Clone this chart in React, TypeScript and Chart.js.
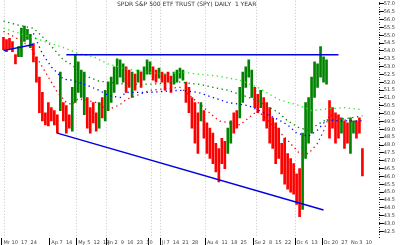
import React, { useEffect, useRef } from 'react';
import { Chart, registerables } from 'chart.js';

Chart.register(...registerables);

const TITLE = 'SPDR S&P 500 ETF TRUST (SPY) DAILY  1 YEAR';

// number of daily slots on the x axis (last few are empty)
const NUM_SLOTS = 126;
const dayLabels = Array.from({ length: NUM_SLOTS }, (_, i) => 'd' + i);

// daily bars: high / low, direction r = down, g = up
const barHigh = [
  54.86, 54.73, 54.80, 54.60, 53.76,
  54.28, 55.45, 55.58, 55.38, 55.06,
  54.47, 53.63, 52.33, 51.36, 50.06,
  50.71, 50.38, 50.19, 49.93, 52.65,
  50.71, 50.51, 49.93, 51.68, 53.76,
  53.30, 52.78, 52.65, 51.03, 50.38,
  50.71, 50.06, 50.71, 51.03, 51.49,
  52.01, 52.33, 52.98, 53.50, 53.43,
  53.17, 52.98, 52.78, 52.65, 52.52,
  52.78, 52.65, 52.98, 53.43, 53.30,
  52.98, 52.78, 52.91, 52.65, 52.52,
  52.65, 52.39, 52.65, 52.78, 52.91,
  52.78, 52.01, 51.68, 51.03, 50.71,
  50.06, 50.71, 50.19, 49.41, 49.08,
  48.76, 48.11, 47.78, 48.43, 48.24,
  49.08, 49.54, 50.06, 50.19, 51.68,
  52.65, 52.98, 53.43, 52.78, 51.68,
  51.23, 51.49, 51.03, 50.71, 50.38,
  49.73, 49.41, 49.08, 48.11, 48.43,
  47.46, 47.14, 46.81, 46.16, 46.49,
  48.76, 50.71, 51.03, 52.33, 53.30,
  53.17, 54.28, 53.63, 53.43, 50.84,
  50.38, 50.06, 49.93, 49.73, 49.54,
  49.41, 49.73, 49.54, 49.54, 49.73,
  47.78,
];
const barLow = [
  54.08, 53.95, 54.15, 53.95, 53.17,
  53.63, 53.63, 54.60, 54.73, 54.21,
  53.30, 52.01, 50.06, 49.54, 49.28,
  49.21, 49.54, 49.28, 48.76, 50.19,
  49.54, 48.76, 49.08, 48.89, 50.71,
  51.36, 51.03, 49.93, 49.08, 48.76,
  49.41, 48.89, 49.08, 49.73, 49.54,
  50.19, 50.71, 51.36, 51.88, 52.33,
  52.01, 51.36, 51.68, 51.03, 51.49,
  52.01, 51.68, 52.13, 52.52, 52.52,
  52.13, 52.01, 52.26, 52.01, 51.49,
  52.01, 51.36, 51.88, 52.01, 52.26,
  52.13, 50.71, 50.06, 49.08, 48.11,
  47.46, 49.54, 48.43, 47.46, 47.14,
  46.81, 46.29, 45.64, 46.81, 46.49,
  47.46, 48.11, 48.76, 49.08, 49.73,
  50.71, 51.68, 52.33, 51.03, 50.38,
  50.06, 50.38, 49.54, 49.08, 48.11,
  47.78, 46.81, 47.14, 46.16, 45.51,
  45.19, 44.99, 44.86, 44.21, 43.43,
  43.89, 47.14, 48.11, 48.76, 51.03,
  51.68, 52.33, 52.01, 51.88, 48.43,
  49.08, 48.11, 48.43, 48.76, 47.78,
  48.11, 47.46, 48.76, 48.43, 48.76,
  46.03,
];
const barDir =
  'rrrrrgggggrrrrrrrrrgrrrgggggrrrrgrgggggggrrgrgrgggrrgrrrrggggrrrrrgrrrrrrrrggrrgggggrrgrrrrrrrrrrrrrgggggggggrrrrgrrggrrr';

// moving averages: [slot, value]
const maShort = [
  [0, 55.25], [4, 54.86], [9, 54.28], [12, 53.30], [15, 52.33], [18, 51.36], [21, 50.71],
  [23, 50.58], [25, 50.97], [31, 50.71], [35, 50.25], [39, 50.58], [41, 50.90], [49, 51.49],
  [59, 51.68], [65, 50.71], [72, 49.54], [79, 49.28], [85, 50.19], [92, 48.89], [95, 48.30],
  [99, 47.46], [102, 47.46], [105, 48.11], [107, 48.89], [109, 49.93], [114, 49.60], [120, 49.41],
];
const maMid = [
  [10, 55.12], [13, 53.82], [16, 52.98], [20, 52.20], [23, 52.13], [27, 51.88], [32, 51.49],
  [35, 51.16], [39, 51.03], [41, 51.36], [49, 51.36], [59, 51.49], [65, 51.36], [75, 50.71],
  [82, 50.51], [92, 49.60], [95, 49.28], [98, 48.76], [102, 48.56], [105, 48.95], [108, 49.60],
  [112, 49.54], [120, 49.54],
];
const maLong = [
  [0, 55.90], [5, 55.64], [10, 55.45], [14, 54.73], [17, 54.08], [20, 53.43], [23, 53.11],
  [26, 52.52], [32, 52.07], [41, 51.88], [49, 51.88], [59, 52.01], [65, 51.88], [75, 51.49],
  [85, 50.84], [92, 50.06], [95, 49.54], [99, 49.08], [102, 48.95], [107, 49.54], [114, 49.67],
  [120, 49.86],
];
const maVeryLong = [
  [0, 55.45], [16, 54.47], [21, 54.15], [25, 53.82], [30, 53.63], [35, 53.17], [41, 52.85],
  [48, 52.65], [54, 52.52], [60, 52.65], [65, 52.52], [72, 52.39], [79, 52.13], [85, 51.68],
  [92, 50.90], [99, 50.51], [103, 50.19], [109, 50.32], [114, 50.38], [120, 50.25],
];

// drawn trend lines: [slot, value]
const resistanceLine = [[21, 53.76], [112, 53.76]];
const supportLine = [[18, 48.76], [107, 43.85]];
const earlyLine = [[0, 54.02], [10, 54.41]];

// axis ticks
const yTicks = [
  57.0, 56.5, 56.0, 55.5, 55.0, 54.5, 54.0, 53.5, 53.0, 52.5, 52.0, 51.5, 51.0, 50.5, 50.0,
  49.5, 49.0, 48.5, 48.0, 47.5, 47.0, 46.5, 46.0, 45.5, 45.0, 44.5, 44.0, 43.5, 43.0, 42.5,
];
const Y_MIN = 42.07;
const Y_MAX = 57.2;
const gridSlots = [1, 25, 35, 50, 53, 68, 85, 98];
const xTickSlots = [0, 16, 25, 35, 49, 53, 68, 84, 98, 107];
const xTickTop = [
  'Mr 10  17  24', 'Ap 7  14', 'My 5  12  19', 'Jn 2  9  16  23  30', '', 'Jl 7  14  21  28',
  'Au 4  11  18  25', 'Se 2  8  15  22', 'Oc 6  13', 'Oc 20  27  No 3  10',
];
const xTickBottom = ['08', '2008', '', 'Jun 2008', '', 'Jul 2008', 'Aug', 'Sep', 'Oct 2008', '2008'];

function toSeries(pairs: number[][]) {
  const arr: (number | null)[] = new Array(NUM_SLOTS).fill(null);
  pairs.forEach(([i, v]) => {
    arr[i] = v;
  });
  return arr;
}

const RED = '#ff0000';
const GREEN = '#008400';
const BLUE = '#0000e0';

const decorPlugin = {
  id: 'decor',
  afterDraw(chart: any) {
    const { ctx, chartArea } = chart;
    ctx.save();
    ctx.fillStyle = '#333';
    const x = Math.round(chartArea.right);
    for (let y = chartArea.top + 1; y < chartArea.bottom; y += 2.5) {
      ctx.fillRect(x, Math.round(y), 1, 1);
    }
    ctx.font = '6px "DejaVu Sans"';
    ctx.fillStyle = '#333';
    ctx.textBaseline = 'top';
    ctx.fillText(TITLE, 117, 1);
    ctx.restore();
  },
};

export default function App() {
  const ref = useRef<HTMLCanvasElement | null>(null);
  useEffect(() => {
    if (!ref.current) return;
    const barData = barHigh.map((h, i) => [barLow[i], h]);
    const barColors = barHigh.map((_, i) => (barDir[i] === 'g' ? GREEN : RED));
    const maDs = (pairs: number[][], color: string) => ({
      type: 'line' as const,
      data: toSeries(pairs),
      borderColor: color,
      borderWidth: 1.3,
      borderDash: [1.3, 3.5],
      pointRadius: 0,
      spanGaps: true,
      tension: 0,
      order: 1,
    });
    const trendDs = (pairs: number[][]) => ({
      type: 'line' as const,
      data: toSeries(pairs),
      borderColor: BLUE,
      borderWidth: 1.5,
      pointRadius: 0,
      spanGaps: true,
      tension: 0,
      order: 0,
    });
    const chart = new Chart(ref.current, {
      type: 'bar',
      data: {
        labels: dayLabels,
        datasets: [
          {
            type: 'bar',
            data: barData as any,
            backgroundColor: barColors,
            borderWidth: 0,
            barThickness: 2,
            order: 2,
          } as any,
          maDs(maVeryLong, '#22ee22'),
          maDs(maLong, '#008000'),
          maDs(maMid, '#0000ff'),
          maDs(maShort, '#ee0000'),
          trendDs(resistanceLine),
          trendDs(supportLine),
          trendDs(earlyLine),
        ],
      },
      options: {
        responsive: false,
        animation: false,
        layout: { padding: { left: 2, right: 5, top: 0, bottom: 0 } },
        plugins: { legend: { display: false }, tooltip: { enabled: false }, title: { display: false } },
        scales: {
          x: {
            type: 'category',
            offset: true,
            grid: {
              offset: true,
              drawOnChartArea: true,
              lineWidth: 1,
              tickLength: 9,
              color: (c: any) => (gridSlots.includes(c.index) ? '#c4c4c4' : 'rgba(0,0,0,0)'),
              tickColor: (c: any) => (xTickSlots.includes(c.index) ? '#000' : 'rgba(0,0,0,0)'),
            },
            border: { display: false, dash: [1, 2] },
            ticks: {
              autoSkip: false,
              maxRotation: 0,
              minRotation: 0,
              align: 'start',
              padding: -7,
              color: '#444',
              font: { size: 5, family: 'DejaVu Sans', lineHeight: 1.2 },
              callback: (_v: any, i: number) => {
                const k = xTickSlots.indexOf(i);
                return k < 0 ? '' : [xTickTop[k], xTickBottom[k]];
              },
            },
          },
          y: {
            position: 'right',
            min: Y_MIN,
            max: Y_MAX,
            afterBuildTicks: (axis: any) => {
              axis.ticks = yTicks.map((v) => ({ value: v }));
            },
            grid: { drawOnChartArea: false, drawTicks: true, tickLength: 5, color: '#000' },
            border: { display: false },
            ticks: {
              autoSkip: false,
              padding: 0,
              color: '#333',
              font: { size: 5, family: 'DejaVu Sans', lineHeight: 0.3 },
              callback: (v: any) => Number(v).toFixed(1),
            },
          },
        },
      } as any,
      plugins: [decorPlugin],
    });
    return () => chart.destroy();
  }, []);
  return (
    <div style={{ position: 'absolute', left: 0, top: 0, width: 400, height: 245, background: '#fff' }}>
      <canvas ref={ref} width={400} height={245} style={{ display: 'block' }} />
    </div>
  );
}
